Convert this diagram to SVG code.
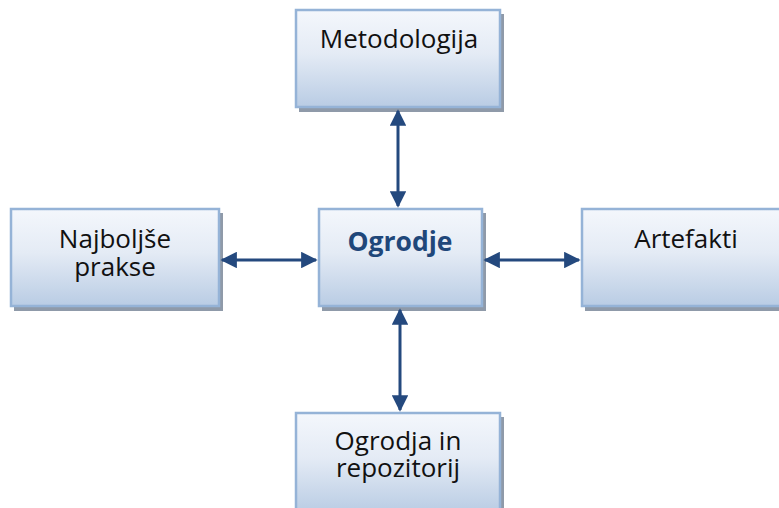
<svg xmlns="http://www.w3.org/2000/svg" width="779" height="508" viewBox="0 0 779 508">
<style>
.box{fill:url(#g);stroke:#95b3d7;stroke-width:2.5}
.sh{fill:#8f9aa9}
.t{font-family:"Open Sans","Liberation Sans",sans-serif;font-size:26px;fill:#111;text-anchor:middle}
.tb{font-family:"Open Sans","Liberation Sans",sans-serif;font-size:26.5px;font-weight:bold;fill:#1f477a;text-anchor:middle}
.c{stroke:#24497e;stroke-width:3;fill:none;marker-start:url(#a);marker-end:url(#a)}
</style>
<defs>
<linearGradient id="g" x1="0" y1="0" x2="0" y2="1">
<stop offset="0" stop-color="#f4f7fc"/>
<stop offset="0.45" stop-color="#e4ebf5"/>
<stop offset="1" stop-color="#b9cce4"/>
</linearGradient>
<marker id="a" viewBox="0 0 10 10" refX="9" refY="5" markerWidth="5.5" markerHeight="5.5" orient="auto-start-reverse" markerUnits="strokeWidth">
<path d="M0,0L10,5L0,10z" fill="#24497e"/>
</marker>
</defs>
<g id="metodologija">
<rect class="sh" x="299" y="14" width="205" height="98"/>
<rect class="box" x="296" y="10" width="204" height="97"/>
<text class="t" x="399" y="48">Metodologija</text>
</g>
<g id="najboljse">
<rect class="sh" x="14" y="213" width="209" height="98"/>
<rect class="box" x="11" y="209" width="208" height="97"/>
<text class="t" x="115" y="248">Najboljše</text>
<text class="t" x="115" y="276">prakse</text>
</g>
<g id="ogrodje">
<rect class="sh" x="322" y="213" width="164" height="98"/>
<rect class="box" x="319" y="209" width="163" height="97"/>
<text class="tb" x="400" y="251">Ogrodje</text>
</g>
<g id="artefakti">
<rect class="sh" x="585" y="213" width="200" height="98"/>
<rect class="box" x="582" y="209" width="200" height="97"/>
<text class="t" x="686" y="248">Artefakti</text>
</g>
<g id="ogrodja">
<rect class="sh" x="299" y="417" width="205" height="98"/>
<rect class="box" x="296" y="413" width="204" height="100"/>
<text class="t" x="398" y="450">Ogrodja in</text>
<text class="t" x="398" y="477">repozitorij</text>
</g>
<g id="connectors">
<line class="c" x1="398" y1="111" x2="398" y2="206"/>
<line class="c" x1="222" y1="260" x2="316" y2="260"/>
<line class="c" x1="485" y1="260" x2="579" y2="260"/>
<line class="c" x1="400" y1="310" x2="400" y2="410"/>
</g>
</svg>
